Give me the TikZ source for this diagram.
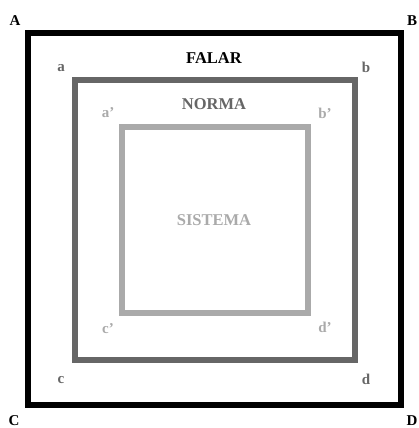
\documentclass[tikz,border=0pt]{standalone}
\usepackage{fontspec}
\setmainfont{Liberation Serif}
\definecolor{midgray}{HTML}{666666}
\definecolor{lightgray2}{HTML}{AAAAAA}
\begin{document}
\begin{tikzpicture}[x=1pt,y=-1pt,
  lbl/.style={font=\fontsize{15}{17}\selectfont\bfseries, inner sep=0pt},
  ttl/.style={font=\fontsize{16.5}{19}\selectfont\bfseries, inner sep=0pt},
  frame/.style={line width=6pt, line join=miter}]
\useasboundingbox[fill=white] (0,0) rectangle (418,428);
\draw[frame, black] (28,33) rectangle (401,405);
\draw[frame, midgray] (75,80) rectangle (355,360);
\draw[frame, lightgray2] (122,127) rectangle (308,313);
\node[lbl] (A) at (15,21) {A};
\node[lbl] (B) at (412,21) {B};
\node[lbl] (C) at (14,421) {C};
\node[lbl] (D) at (412,421) {D};
\node[lbl, text=midgray] (a) at (61,68) {a};
\node[lbl, text=midgray] (b) at (366,67) {b};
\node[lbl, text=midgray] (c) at (61,380) {c};
\node[lbl, text=midgray] (d) at (366,379) {d};
\node[lbl, text=lightgray2] (a2) at (108,113) {a’};
\node[lbl, text=lightgray2] (b2) at (325,113) {b’};
\node[lbl, text=lightgray2] (c2) at (108,329) {c’};
\node[lbl, text=lightgray2] (d2) at (325,327) {d’};
\node[ttl] (falar) at (214,58) {FALAR};
\node[ttl, text=midgray] (norma) at (214,104) {NORMA};
\node[ttl, text=lightgray2] (sistema) at (214,220) {SISTEMA};
\end{tikzpicture}
\end{document}
